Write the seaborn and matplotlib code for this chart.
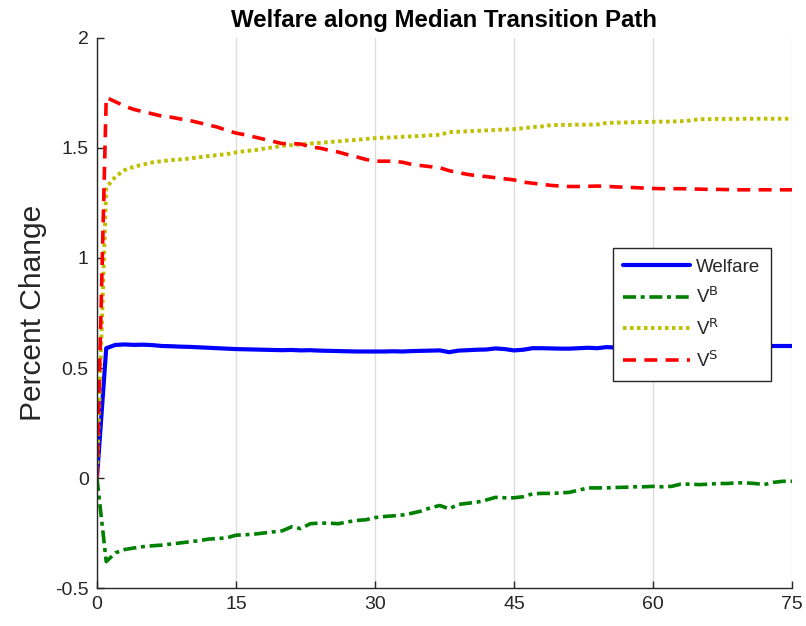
import numpy as np
import pandas as pd
import matplotlib
matplotlib.use("Agg")
import matplotlib.pyplot as plt
import seaborn as sns

periods = list(range(0, 76))

welfare = [0.0, 0.59, 0.605, 0.607, 0.605, 0.606, 0.604, 0.600, 0.599, 0.597,
           0.596, 0.594, 0.592, 0.590, 0.588, 0.586, 0.585, 0.584, 0.583, 0.582,
           0.581, 0.582, 0.580, 0.581, 0.579, 0.578, 0.577, 0.576, 0.575, 0.575,
           0.575, 0.575, 0.576, 0.575, 0.577, 0.578, 0.579, 0.580, 0.572, 0.579,
           0.581, 0.583, 0.584, 0.589, 0.586, 0.580, 0.583, 0.590, 0.590, 0.589,
           0.588, 0.588, 0.590, 0.592, 0.590, 0.595, 0.593, 0.593, 0.592, 0.594,
           0.594, 0.596, 0.596, 0.595, 0.597, 0.596, 0.597, 0.598, 0.598, 0.597,
           0.598, 0.597, 0.598, 0.600, 0.600, 0.600]

v_b = [0.0, -0.38, -0.34, -0.325, -0.318, -0.312, -0.308, -0.305, -0.300, -0.295,
       -0.290, -0.285, -0.278, -0.275, -0.272, -0.260, -0.258, -0.255, -0.250, -0.245,
       -0.240, -0.222, -0.230, -0.208, -0.205, -0.205, -0.208, -0.200, -0.193, -0.190,
       -0.180, -0.175, -0.172, -0.168, -0.160, -0.150, -0.135, -0.125, -0.140, -0.120,
       -0.115, -0.110, -0.100, -0.088, -0.090, -0.090, -0.085, -0.072, -0.070, -0.070,
       -0.068, -0.065, -0.055, -0.045, -0.045, -0.045, -0.043, -0.042, -0.040, -0.040,
       -0.038, -0.040, -0.038, -0.028, -0.028, -0.030, -0.028, -0.025, -0.025, -0.022,
       -0.022, -0.025, -0.030, -0.020, -0.015, -0.015]

v_r = [0.0, 1.32, 1.37, 1.40, 1.415, 1.425, 1.435, 1.440, 1.445, 1.448,
       1.452, 1.458, 1.463, 1.468, 1.472, 1.480, 1.486, 1.490, 1.497, 1.503,
       1.510, 1.513, 1.517, 1.520, 1.523, 1.527, 1.530, 1.534, 1.537, 1.541,
       1.545, 1.547, 1.548, 1.551, 1.553, 1.555, 1.558, 1.560, 1.572, 1.574,
       1.576, 1.578, 1.580, 1.582, 1.584, 1.586, 1.590, 1.595, 1.598, 1.604,
       1.605, 1.605, 1.606, 1.606, 1.607, 1.614, 1.615, 1.616, 1.617, 1.618,
       1.619, 1.620, 1.620, 1.622, 1.625, 1.631, 1.631, 1.632, 1.632, 1.632,
       1.633, 1.633, 1.633, 1.633, 1.633, 1.633]

v_s = [0.0, 1.73, 1.71, 1.69, 1.675, 1.665, 1.655, 1.645, 1.640, 1.632,
       1.625, 1.615, 1.605, 1.595, 1.580, 1.568, 1.560, 1.550, 1.540, 1.530,
       1.520, 1.520, 1.518, 1.505, 1.500, 1.490, 1.482, 1.470, 1.460, 1.448,
       1.440, 1.440, 1.440, 1.435, 1.425, 1.420, 1.415, 1.410, 1.397, 1.388,
       1.380, 1.374, 1.370, 1.365, 1.360, 1.355, 1.345, 1.340, 1.335, 1.330,
       1.327, 1.325, 1.325, 1.326, 1.327, 1.326, 1.323, 1.322, 1.320, 1.318,
       1.316, 1.315, 1.315, 1.315, 1.314, 1.313, 1.312, 1.312, 1.311, 1.310,
       1.310, 1.310, 1.310, 1.310, 1.310, 1.310]

series_labels = ["Welfare", r"V$^{\mathrm{B}}$", r"V$^{\mathrm{R}}$", r"V$^{\mathrm{S}}$"]
x_ticks = [0, 15, 30, 45, 60, 75]
y_ticks = [-0.5, 0, 0.5, 1, 1.5, 2]
y_tick_labels = ["-0.5", "0", "0.5", "1", "1.5", "2"]

sns.set_theme(style="white")
plt.rcParams["font.family"] = ["Liberation Sans", "DejaVu Sans"]
plt.rcParams["mathtext.default"] = "regular"

fig = plt.figure(figsize=(8.06, 6.26), dpi=100)
ax = fig.add_axes([0.1203, 0.0607, 0.8623, 0.8786])

df = pd.DataFrame({"t": periods, "Welfare": welfare, "VB": v_b, "VR": v_r, "VS": v_s})

styles = [
    ("Welfare", "#0000ff", "-", 3.0),
    ("VB", "#008000", (0, (3.6, 1.3, 1.1, 1.3)), 2.6),
    ("VR", "#bfbf00", (0, (0.9, 0.9)), 2.8),
    ("VS", "#ff0000", (0, (3.6, 2.3)), 2.6),
]
for (col, color, ls, lw), lab in zip(styles, series_labels):
    sns.lineplot(data=df, x="t", y=col, ax=ax, color=color, linestyle=ls,
                 linewidth=lw, label=lab)

ax.set_xlim(0, 75)
ax.set_ylim(-0.5, 2)
ax.set_xticks(x_ticks)
ax.set_xticklabels([str(v) for v in x_ticks])
ax.set_yticks(y_ticks)
ax.set_yticklabels(y_tick_labels)
ax.xaxis.grid(True, color="#dcdcdc", linewidth=1.0)
ax.yaxis.grid(False)
ax.tick_params(axis="both", direction="in", length=5, width=1.0,
               colors="#262626", labelsize=14, pad=6, left=True, bottom=True)
for s in ["top", "right"]:
    ax.spines[s].set_visible(False)
for s in ["left", "bottom"]:
    ax.spines[s].set_color("#262626")
    ax.spines[s].set_linewidth(1.0)

ax.set_xlabel("")
ax.set_ylabel("Percent Change", fontsize=21.5, color="#262626", labelpad=6)
ax.set_title("Welfare along Median Transition Path", fontsize=17.3,
             fontweight="bold", color="black", pad=8)

leg = ax.legend(loc="upper left", bbox_to_anchor=(0.742, 0.618), fontsize=13.5,
                frameon=True, fancybox=False, edgecolor="#262626", framealpha=1.0,
                facecolor="white", handlelength=3.6, borderpad=0.55,
                labelspacing=0.58, handletextpad=0.3, borderaxespad=0)
leg.get_frame().set_linewidth(1.0)
leg.set_zorder(10)

fig.savefig("out.png", dpi=100)
